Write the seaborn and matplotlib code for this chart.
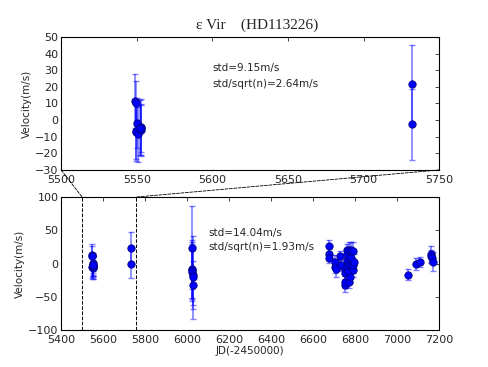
import matplotlib
matplotlib.use("Agg")
import matplotlib.pyplot as plt
import seaborn as sns
from matplotlib.patches import ConnectionPatch

# zoomed panel: first season plus the two points near 5732
jd_zoom = [5549.0, 5549.3, 5549.2, 5549.8, 5550.3, 5550.6, 5552.5, 5552.8, 5553.0, 5552.2, 5732.0, 5732.3]
rv_zoom = [11.5, 10.2, -6.5, -7.0, -1.5, -8.5, -4.0, -6.0, -5.0, -4.5, 22.0, -2.5]
err_zoom = [16.0, 13.3, 17.0, 17.5, 15.0, 16.5, 17.0, 15.5, 14.0, 16.5, 23.0, 21.5]

# full data set
jd_all = [5549.0, 5549.3, 5549.2, 5549.8, 5550.3, 5550.6, 5552.5, 5552.8, 5553.0, 5552.2,
          5732.0, 5732.3,
          6022.0, 6023.0, 6024.0, 6025.0, 6026.0, 6027.0, 6028.0,
          6675.0, 6676.0, 6677.0, 6705.0, 6706.0, 6707.0, 6730.0, 6731.0,
          6750.0, 6751.0, 6752.0, 6753.0,
          6760.0, 6761.0, 6762.0, 6763.0, 6764.0,
          6770.0, 6771.0, 6772.0, 6773.0, 6774.0,
          6780.0, 6781.0, 6782.0,
          6790.0, 6791.0, 6792.0, 6793.0,
          7050.0, 7090.0, 7110.0, 7162.0, 7163.0, 7164.0, 7170.0]
rv_all = [13.5, 12.0, -5.0, -5.5, 0.5, -7.0, -2.5, -4.5, -3.5, -3.0,
          23.5, 0.0,
          24.0, -8.0, -10.0, -13.0, -18.0, -21.0, -32.0,
          26.0, 15.0, 9.0, 3.0, -6.0, -9.0, 11.0, -3.0,
          -8.0, -33.0, -28.0, -15.0,
          20.0, 14.0, 5.0, -5.0, -12.0,
          21.0, 10.0, 0.0, -28.0, -20.0,
          20.0, 8.0, -2.0,
          19.0, -10.0, -3.0, 2.0,
          -17.0, -1.0, 2.0, 15.0, 11.0, 8.0, 3.0]
err_all = [16.0, 14.0, 17.0, 17.5, 15.0, 16.5, 17.0, 15.5, 14.0, 16.5,
           23.5, 21.5,
           62.0, 44.0, 43.0, 43.0, 45.0, 62.0, 36.0,
           9.0, 9.0, 8.0, 10.0, 9.0, 11.0, 8.0, 9.0,
           9.0, 10.0, 9.0, 10.0,
           10.0, 10.0, 9.0, 9.0, 10.0,
           11.0, 10.0, 9.0, 9.0, 10.0,
           12.0, 10.0, 9.0,
           13.0, 10.0, 11.0, 12.0,
           8.0, 9.0, 8.0, 12.0, 10.0, 9.0, 14.0]

zoom_lo, zoom_hi = 5500, 5757

sns.set_style("white")
plt.rcParams["font.family"] = ["DejaVu Sans"]
plt.rcParams["axes.edgecolor"] = "black"

fig = plt.figure(figsize=(4.89, 3.67), dpi=100)
ax1 = fig.add_axes([0.125, 0.537, 0.773, 0.362])
ax2 = fig.add_axes([0.125, 0.101, 0.773, 0.362])


def rv_panel(ax, jd, rv, err):
    ax.errorbar(jd, rv, yerr=err, fmt="none", ecolor="blue", alpha=0.5,
                elinewidth=1.2, capsize=2.5, capthick=1, zorder=2)
    sns.scatterplot(x=jd, y=rv, ax=ax, color="blue", s=28, edgecolor="#000080",
                    linewidth=0.6, zorder=3, legend=False)
    ax.tick_params(direction="in", top=True, right=True, labelsize=8,
                   length=3, width=0.6, pad=2)
    ax.tick_params(axis="x", pad=3.5)
    for sp in ax.spines.values():
        sp.set_linewidth(0.8)
    ax.set_ylabel("Velocity(m/s)", fontsize=7.5, labelpad=2)


rv_panel(ax1, jd_zoom, rv_zoom, err_zoom)
ax1.set_xlim(5500, 5750)
ax1.set_ylim(-30, 50)
ax1.set_xticks(range(5500, 5751, 50))
ax1.set_yticks(range(-30, 51, 10))
ax1.text(0.40, 0.767, "std=9.15m/s", transform=ax1.transAxes, fontsize=7.5, va="center")
ax1.text(0.40, 0.647, "std/sqrt(n)=2.64m/s", transform=ax1.transAxes, fontsize=7.5, va="center")

rv_panel(ax2, jd_all, rv_all, err_all)
ax2.set_xlim(5400, 7200)
ax2.set_ylim(-100, 100)
ax2.set_xticks(range(5400, 7201, 200))
ax2.set_yticks(range(-100, 101, 50))
ax2.set_xlabel("JD(-2450000)", fontsize=7.5, labelpad=1)
ax2.text(0.39, 0.73, "std=14.04m/s", transform=ax2.transAxes, fontsize=7.5, va="center")
ax2.text(0.39, 0.624, "std/sqrt(n)=1.93m/s", transform=ax2.transAxes, fontsize=7.5, va="center")

# zoom markers
for x in (zoom_lo, zoom_hi):
    ax2.axvline(x, color="black", ls="--", lw=0.7, zorder=1)
for xa, xb in ((5500, zoom_lo), (5750, zoom_hi)):
    con = ConnectionPatch(xyA=(xa, -30), coordsA=ax1.transData,
                          xyB=(xb, 100), coordsB=ax2.transData,
                          color="black", ls="--", lw=0.6)
    fig.add_artist(con)

fig.text(0.525, 0.932, "\u03b5 Vir\u3000(HD113226)", ha="center", va="center",
         fontsize=11, family=["Liberation Serif", "Noto Sans CJK SC"])

fig.savefig("out.png", dpi=100)
